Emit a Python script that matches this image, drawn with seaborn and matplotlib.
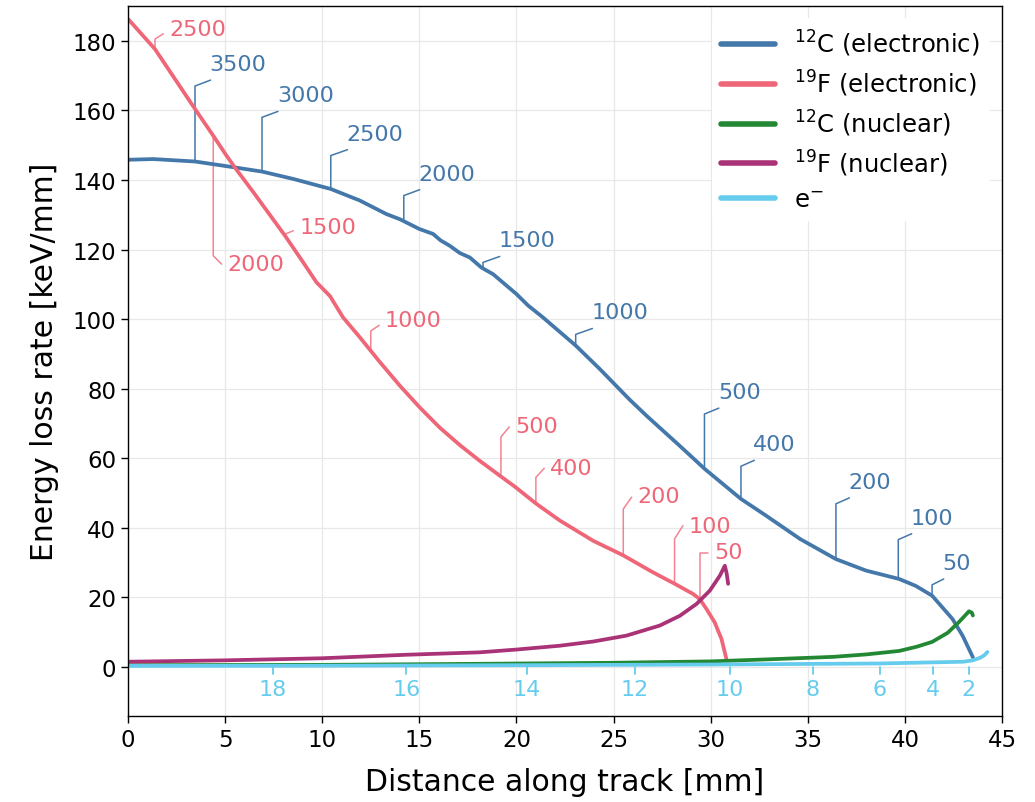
import numpy as np
import pandas as pd
import matplotlib
matplotlib.use("Agg")
import matplotlib.pyplot as plt
import seaborn as sns

# ---------------- data ----------------
c_el_x = [0, 1.3, 3.45, 5.5, 6.9, 8.5, 10.44, 11.93, 13.3, 14.0, 15.0, 15.7, 16.1, 16.56, 17.08,
          17.6, 18.2, 18.8, 20.0, 20.6, 21.36, 23.05, 24.3, 25.8, 26.7, 28.4, 29.7, 31.56, 32.85,
          34.6, 36.45, 38.0, 39.7, 40.56, 41.4, 42.45, 42.97, 43.5]
c_el_y = [145.8, 146.0, 145.3, 143.6, 142.4, 140.3, 137.4, 134.1, 130.2, 128.7, 125.9, 124.5, 122.6,
          121.1, 119.0, 117.7, 114.8, 112.9, 107.2, 103.9, 100.5, 92.4, 85.6, 77.0, 72.2, 63.6, 56.9,
          48.3, 43.5, 36.8, 31.0, 27.7, 25.3, 23.3, 20.5, 13.8, 9.0, 2.8]

f_el_x = [0, 1.39, 3.45, 4.39, 5.07, 5.5, 6.45, 8.08, 9.02, 9.7, 10.4, 11.07, 11.93, 12.96, 13.99,
          15.02, 16.05, 17.08, 18.1, 19.14, 19.9, 21.0, 22.23, 23.94, 25.49, 27.03, 28.15, 29.09,
          29.44, 29.78, 30.21, 30.56, 30.81]
f_el_y = [186.3, 177.6, 160.4, 152.7, 147.0, 143.6, 136.5, 124.0, 116.3, 110.6, 106.6, 100.5, 94.8,
          87.7, 80.9, 74.6, 68.8, 63.8, 59.3, 55.0, 51.9, 47.0, 42.1, 36.3, 32.1, 27.2, 23.9, 21.0,
          19.5, 16.7, 12.8, 8.0, 2.3]

c_nu_x = [0, 10, 18, 25, 30, 33.5, 36.3, 38.0, 39.7, 40.6, 41.4, 42.2, 42.8, 43.3, 43.45, 43.5]
c_nu_y = [0.5, 0.6, 0.9, 1.2, 1.6, 2.3, 2.9, 3.6, 4.6, 5.8, 7.2, 9.8, 13.0, 16.0, 15.6, 14.8]

f_nu_x = [0, 5, 10, 14.3, 18.1, 20, 22.23, 23.94, 25.66, 27.38, 28.41, 29.27, 29.95, 30.47, 30.73,
          30.82, 30.9]
f_nu_y = [1.5, 1.9, 2.5, 3.5, 4.2, 5.0, 6.1, 7.3, 9.0, 11.9, 14.7, 18.1, 21.9, 26.2, 29.1, 27.0, 23.9]

e_x = [0, 10, 20, 30, 38.7, 43.0, 43.5, 43.9, 44.1, 44.25]
e_y = [0.3, 0.35, 0.5, 0.7, 1.0, 1.5, 1.9, 2.7, 3.4, 4.3]

series_names = [r"$^{12}$C (electronic)", r"$^{19}$F (electronic)", r"$^{12}$C (nuclear)",
                r"$^{19}$F (nuclear)", r"e$^{-}$"]

# energy labels (keV) along tracks
c_lab_val = [3500, 3000, 2500, 2000, 1500, 1000, 500, 400, 200, 100, 50]
c_lab_x = [3.45, 6.9, 10.44, 14.2, 18.28, 23.05, 29.68, 31.56, 36.45, 39.66, 41.4]
f_lab_val = [2500, 2000, 1500, 1000, 500, 400, 200, 100, 50]
f_lab_x = [1.39, 4.39, 8.08, 12.5, 19.2, 21.0, 25.5, 28.14, 29.45]
e_lab_val = [18, 16, 14, 12, 10, 8, 6, 4, 2]
e_lab_x = [7.46, 14.33, 20.54, 26.1, 31.0, 35.25, 38.7, 41.43, 43.28]

# leader layout
c_knee = [167, 158, 147, 135.5, 116.3, 95.6, 72.7, 57.7, 46.9, 36.6, 23.6]
c_end_dx = [0.8, 0.82, 0.86, 0.82, 0.86, 0.86, 0.74, 0.69, 0.69, 0.69, 0.6]
f_knee = [180.5, 118.2, 124.4, 96.6, 66.1, 54.5, 45.4, 36.8, 32.8]
f_end_dy = [1.5, -2.4, 1.0, 1.6, 2.9, 2.6, 3.4, 3.8, 0.0]
f_txt_dy = [1.4, -0.1, 1.2, 1.4, 0.2, 0.0, 0.4, 0.0, 0.3]

colors = ["#4477AA", "#EE6677", "#228833", "#AA3377", "#66CCEE"]

# ---------------- figure ----------------
sns.set_theme(style="whitegrid")
plt.rcParams["font.family"] = ["DejaVu Sans"]
plt.rcParams["mathtext.fontset"] = "dejavusans"

fig, ax = plt.subplots(figsize=(10.35, 8.03), dpi=100)
fig.subplots_adjust(left=128 / 1035, right=1002 / 1035, top=1 - 7 / 803, bottom=1 - 717 / 803)

frames = []
for name, xs, ys in zip(series_names,
                        [c_el_x, f_el_x, c_nu_x, f_nu_x, e_x],
                        [c_el_y, f_el_y, c_nu_y, f_nu_y, e_y]):
    frames.append(pd.DataFrame({"x": xs, "y": ys, "series": name}))
df = pd.concat(frames, ignore_index=True)

sns.lineplot(data=df, x="x", y="y", hue="series", hue_order=series_names,
             palette=colors, sort=False, estimator=None, units="series",
             linewidth=2.7, ax=ax, legend=True)

# leaders for 12C electronic
for val, lx, knee, ddx in zip(c_lab_val, c_lab_x, c_knee, c_end_dx):
    y0 = np.interp(lx, c_el_x, c_el_y)
    ex, ey = lx + ddx, knee + 1.7
    ax.plot([lx, lx, ex], [y0, knee, ey], color=colors[0], lw=1.1, zorder=1)
    ax.text(ex - 0.05, ey + 4.6, str(val), color=colors[0], fontsize=16,
            ha="left", va="center")

# leaders for 19F electronic
for val, lx, knee, edy, tdy in zip(f_lab_val, f_lab_x, f_knee, f_end_dy, f_txt_dy):
    y0 = np.interp(lx, f_el_x, f_el_y)
    ex, ey = lx + 0.43, knee + edy
    ax.plot([lx, lx, ex], [y0, knee, ey], color=colors[1], lw=1.1, alpha=0.8, zorder=1)
    ax.text(ex + 0.3, ey + tdy, str(val), color=colors[1], fontsize=16,
            ha="left", va="center")

# electron energy ticks
for val, lx in zip(e_lab_val, e_lab_x):
    ax.plot([lx, lx], [0, -2.0], color=colors[4], lw=1.3)
    ax.text(lx, -6.2, str(val), color=colors[4], fontsize=16, ha="center", va="center")

ax.set_xlim(0, 45)
ax.set_ylim(-14.1, 190)
ax.set_xticks(np.arange(0, 46, 5))
ax.set_yticks(np.arange(0, 181, 20))
ax.set_xlabel("Distance along track [mm]", fontsize=21.5, color="black", labelpad=12)
ax.set_ylabel("Energy loss rate [keV/mm]", fontsize=21.5, color="black", labelpad=10)
ax.tick_params(axis="both", which="major", length=5, width=1, color="black",
               labelsize=16.5, labelcolor="black", bottom=True, left=True, direction="out")
ax.grid(True, color="#e8e8e8", linewidth=0.9)
for sp in ax.spines.values():
    sp.set_visible(True)
    sp.set_color("black")
    sp.set_linewidth(1.0)

handles, labels = ax.get_legend_handles_labels()
for h in handles:
    h.set_linewidth(4)
leg = ax.legend(handles, labels, loc="upper right", fontsize=17.5, frameon=True,
                facecolor="white", edgecolor="none", framealpha=1.0,
                handlelength=2.2, handletextpad=0.8, labelspacing=0.4)
for t in leg.get_texts():
    t.set_color("black")

fig.savefig("out.png", dpi=100)
